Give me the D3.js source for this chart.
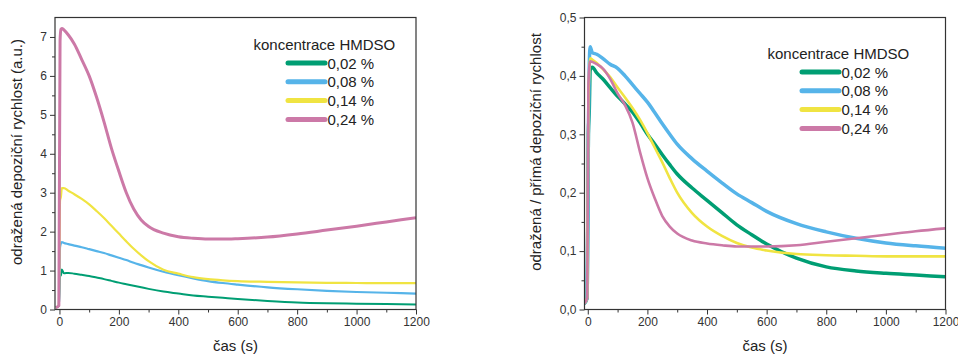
<!DOCTYPE html>
<html><head><meta charset="utf-8">
<script src="https://cdn.jsdelivr.net/npm/d3@7"></script>
<style>
html,body{margin:0;padding:0;background:#fff;}
svg{display:block;font-family:"Liberation Sans",Arial,sans-serif;}
</style></head>
<body>
<svg id="chart" width="958" height="354"></svg>
<script>
// ---- data ----
const time = [-12, -2, 2, 5, 8, 15, 30, 50, 75, 100, 125, 150, 175, 200, 225, 250, 275, 300, 350, 400, 450, 500, 550, 600, 700, 800, 900, 1000, 1100, 1200];
const seriesNames = ["0,02 %", "0,08 %", "0,14 %", "0,24 %"];
const seriesColors = ["#009E73", "#56B4E9", "#F0E442", "#CC79A7"];
const legendTitle = "koncentrace HMDSO";

// left panel: odražená depoziční rychlost (a.u.)
const left002 = [0.05, 0.1, 0.85, 0.88, 1.03, 0.93, 0.94, 0.92, 0.89, 0.86, 0.82, 0.78, 0.735, 0.69, 0.65, 0.61, 0.57, 0.53, 0.46, 0.41, 0.36, 0.33, 0.30, 0.27, 0.22, 0.18, 0.16, 0.15, 0.14, 0.13];
const left008 = [0.05, 0.1, 1.6, 1.7, 1.73, 1.71, 1.68, 1.64, 1.6, 1.55, 1.5, 1.45, 1.39, 1.33, 1.27, 1.2, 1.14, 1.08, 0.97, 0.88, 0.8, 0.73, 0.68, 0.64, 0.57, 0.52, 0.48, 0.45, 0.43, 0.41];
const left014 = [0.05, 0.1, 2.8, 2.9, 3.12, 3.12, 3.05, 2.96, 2.84, 2.7, 2.53, 2.35, 2.15, 1.95, 1.75, 1.56, 1.39, 1.24, 1.02, 0.92, 0.83, 0.78, 0.75, 0.73, 0.71, 0.695, 0.685, 0.68, 0.675, 0.675];
const left024 = [0.05, 0.1, 6.9, 7.2, 7.22, 7.18, 7.05, 6.82, 6.42, 6.0, 5.45, 4.82, 4.14, 3.55, 3.0, 2.58, 2.3, 2.13, 1.96, 1.87, 1.83, 1.81, 1.81, 1.82, 1.86, 1.94, 2.04, 2.14, 2.25, 2.36];

// right panel: odražená / přímá depoziční rychlost
const right002 = [0.01, 0.02, 0.3, 0.34, 0.41, 0.415, 0.405, 0.395, 0.38, 0.365, 0.352, 0.338, 0.32, 0.3, 0.283, 0.265, 0.248, 0.232, 0.208, 0.187, 0.166, 0.145, 0.128, 0.112, 0.088, 0.073, 0.066, 0.062, 0.059, 0.056];
const right008 = [0.01, 0.02, 0.3, 0.42, 0.45, 0.44, 0.437, 0.43, 0.42, 0.413, 0.4, 0.385, 0.37, 0.355, 0.337, 0.318, 0.3, 0.283, 0.258, 0.237, 0.217, 0.198, 0.183, 0.168, 0.147, 0.133, 0.122, 0.114, 0.109, 0.105];
const right014 = [0.01, 0.02, 0.35, 0.41, 0.43, 0.428, 0.422, 0.412, 0.398, 0.38, 0.363, 0.345, 0.325, 0.302, 0.277, 0.252, 0.225, 0.2, 0.165, 0.142, 0.126, 0.114, 0.106, 0.101, 0.095, 0.093, 0.092, 0.091, 0.091, 0.091];
const right024 = [0.01, 0.02, 0.38, 0.415, 0.425, 0.424, 0.42, 0.413, 0.395, 0.37, 0.35, 0.32, 0.27, 0.225, 0.19, 0.16, 0.142, 0.13, 0.118, 0.113, 0.11, 0.108, 0.108, 0.108, 0.11, 0.116, 0.122, 0.128, 0.134, 0.139];

const xTicks = [0, 200, 400, 600, 800, 1000, 1200];
const leftYTicks = [0, 1, 2, 3, 4, 5, 6, 7];
const rightYTicks = [0, 0.1, 0.2, 0.3, 0.4, 0.5];
const xTitle = "čas (s)";
const leftYTitle = "odražená depoziční rychlost (a.u.)";
const rightYTitle = "odražená / přímá depoziční rychlost";

// ---- drawing ----
const svg = d3.select("#chart");
const frameColor = "#333";

function panel(cfg) {
  const {x0, x1, y0, y1, xDomain, yDomain, yTicks, yMinor, yFmt, series, widths, yTitle, yTitleX, legend, id} = cfg;
  const x = d3.scaleLinear().domain(xDomain).range([x0, x1]);
  const y = d3.scaleLinear().domain(yDomain).range([y1, y0]);
  const g = svg.append("g");

  g.append("clipPath").attr("id", id).append("rect")
    .attr("x", x0).attr("y", y0).attr("width", x1 - x0).attr("height", y1 - y0);

  const line = d3.line().x(d => x(d[0])).y(d => y(d[1])).curve(d3.curveMonotoneX);
  const dg = g.append("g").attr("clip-path", `url(#${id})`);
  series.forEach((vals, i) => {
    dg.append("path")
      .datum(time.map((t, k) => [t, vals[k]]))
      .attr("fill", "none")
      .attr("stroke", seriesColors[i])
      .attr("stroke-width", widths[i])
      .attr("stroke-linejoin", "round")
      .attr("d", line);
  });

  // axes
  const xMinor = d3.range(100, 1200, 200);
  const xAxis = d3.axisBottom(x).tickValues(xTicks).tickSize(5).tickPadding(3).tickFormat(d3.format("d"));
  const xAxisMinor = d3.axisBottom(x).tickValues(xMinor).tickSize(3).tickFormat("");
  const yAxis = d3.axisLeft(y).tickValues(yTicks).tickSize(5).tickPadding(3).tickFormat(yFmt);
  const yAxisMinor = d3.axisLeft(y).tickValues(yMinor).tickSize(3).tickFormat("");

  const styleAxis = sel => {
    sel.select(".domain").remove();
    sel.selectAll("line").attr("stroke", frameColor).attr("stroke-width", 1);
    sel.selectAll("text").attr("fill", "#333").style("font-size", "12px")
      .style("font-family", '"Liberation Sans",Arial,sans-serif');
  };
  g.append("g").attr("transform", `translate(0,${y1})`).call(xAxis).call(styleAxis);
  g.append("g").attr("transform", `translate(0,${y1})`).call(xAxisMinor).call(styleAxis);
  g.append("g").attr("transform", `translate(${x0},0)`).call(yAxis).call(styleAxis);
  g.append("g").attr("transform", `translate(${x0},0)`).call(yAxisMinor).call(styleAxis);

  // frame
  g.append("rect").attr("x", x0).attr("y", y0).attr("width", x1 - x0).attr("height", y1 - y0)
    .attr("fill", "none").attr("stroke", frameColor).attr("stroke-width", 1.2);

  // titles
  g.append("text").attr("x", (x0 + x1) / 2).attr("y", 351).attr("text-anchor", "middle")
    .attr("fill", "#222").style("font-size", "15px").text(xTitle);
  g.append("text").attr("transform", `translate(${yTitleX},${cfg.yTitleY}) rotate(-90)`)
    .attr("text-anchor", "middle").attr("fill", "#222").style("font-size", "15px").text(yTitle);

  // legend
  const lg = g.append("g");
  lg.append("text").attr("x", legend.x - 34.5).attr("y", legend.y - 12.7)
    .attr("fill", "#222").style("font-size", "15px").text(legendTitle);
  seriesNames.forEach((n, i) => {
    const yy = legend.y + i * 18.8;
    lg.append("line").attr("x1", legend.x).attr("x2", legend.x + 37)
      .attr("y1", yy).attr("y2", yy).attr("stroke", seriesColors[i])
      .attr("stroke-width", 5).attr("stroke-linecap", "round");
    lg.append("text").attr("x", legend.x + 39.5).attr("y", yy + 5.5)
      .attr("fill", "#222").style("font-size", "15px").text(n);
  });
}

panel({
  id: "clipL", x0: 55, x1: 416, y0: 17.5, y1: 309.5,
  xDomain: [-15, 1200], yDomain: [0, 7.5],
  yTicks: leftYTicks, yMinor: d3.range(0.5, 7.5, 1), yFmt: d3.format("d"),
  series: [left002, left008, left014, left024], widths: [2, 2.2, 2.2, 3],
  yTitle: leftYTitle, yTitleX: 22, yTitleY: 152,
  legend: {x: 288, y: 63}
});

panel({
  id: "clipR", x0: 584.5, x1: 945.5, y0: 17.5, y1: 309.5,
  xDomain: [-11, 1200], yDomain: [0, 0.5],
  yTicks: rightYTicks, yMinor: d3.range(0.05, 0.5, 0.1), yFmt: d => d3.format(".1f")(d).replace(".", ","),
  series: [right002, right008, right014, right024], widths: [3.5, 3.5, 2.6, 2.6],
  yTitle: rightYTitle, yTitleX: 541, yTitleY: 152,
  legend: {x: 802, y: 72}
});
</script>
</body></html>
